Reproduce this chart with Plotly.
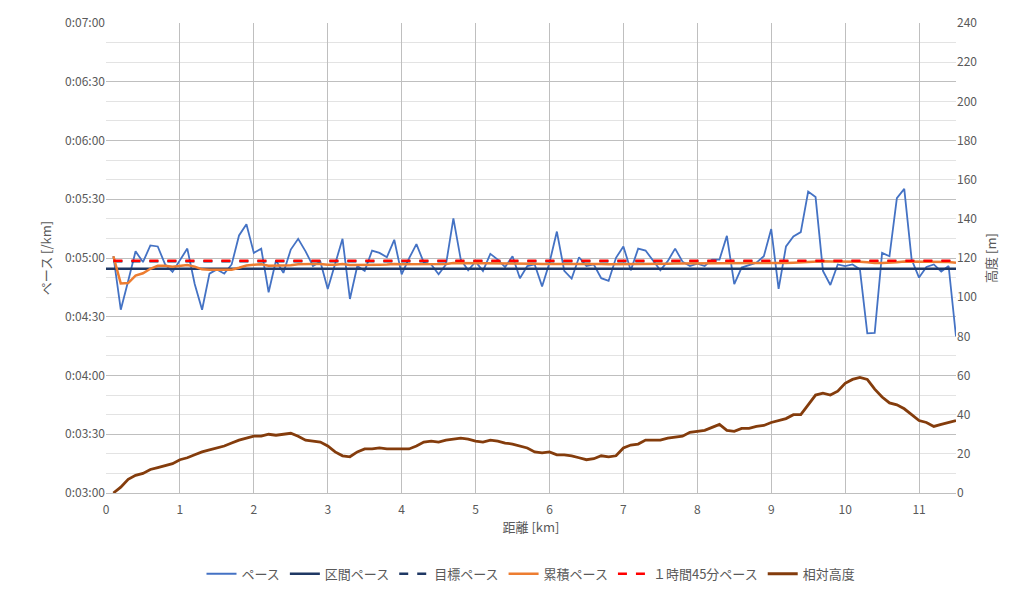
import plotly.graph_objects as go

dist = [round(0.1 * i, 1) for i in range(1, 116)]

pace = [300.9, 273.6, 288.3, 303.4, 297.9, 306.4, 305.9, 296.7, 292.9, 299.2,
        304.8, 286.7, 273.6, 292.0, 294.2, 292.0, 296.7, 311.5, 317.2, 302.6,
        304.8, 282.5, 298.7, 292.4, 304.3, 309.8, 303.4, 295.9, 298.1, 284.2,
        296.7, 309.8, 279.1, 295.9, 293.4, 303.8, 302.6, 300.4, 309.3, 291.7,
        299.8, 307.1, 297.6, 296.7, 291.7, 296.7, 320.2, 299.2, 293.7, 298.1,
        293.4, 302.1, 299.2, 295.4, 300.9, 289.7, 295.9, 296.7, 285.5, 297.6,
        313.5, 293.4, 289.5, 300.4, 295.9, 296.7, 289.7, 288.3, 300.1, 305.9,
        293.7, 304.8, 303.8, 298.7, 293.7, 298.4, 304.8, 298.1, 295.9, 297.1,
        295.9, 299.2, 299.2, 311.3, 286.7, 295.1, 296.4, 297.6, 300.9, 314.8,
        284.2, 305.9, 311.0, 313.2, 333.9, 331.1, 293.4, 286.2, 296.7, 295.9,
        296.7, 294.2, 261.5, 261.8, 302.6, 300.9, 330.6, 335.3, 299.2, 290.0,
        295.4, 296.7, 293.1, 295.9, 259.9]

cum_pace = [300.9, 287.0, 287.2, 291.0, 292.2, 294.5, 296.0, 296.0, 295.6, 295.9,
            296.4, 295.6, 294.2, 294.0, 294.0, 293.8, 294.0, 295.0, 296.2, 296.5,
            296.8, 296.1, 296.2, 296.0, 296.3, 296.8, 297.0, 296.9, 296.9, 296.5,
            296.5, 296.9, 296.4, 296.4, 296.3, 296.5, 296.6, 296.7, 297.0, 296.8,
            296.8, 297.0, 297.0, 297.0, 296.9, 296.9, 297.4, 297.4, 297.3, 297.3,
            297.2, 297.3, 297.3, 297.3, 297.3, 297.1, 297.1, 297.1, 296.9, 296.9,
            297.2, 297.1, 297.0, 297.1, 297.0, 297.0, 296.9, 296.8, 296.8, 296.9,
            296.9, 297.0, 297.1, 297.1, 297.0, 297.1, 297.2, 297.2, 297.2, 297.2,
            297.2, 297.2, 297.2, 297.4, 297.3, 297.3, 297.3, 297.3, 297.3, 297.5,
            297.4, 297.5, 297.6, 297.8, 298.1, 298.4, 298.3, 298.2, 298.2, 298.2,
            298.2, 298.1, 297.8, 297.4, 297.5, 297.5, 297.8, 298.2, 298.2, 298.1,
            298.1, 298.1, 298.0, 298.0, 297.6]

elev = [0, 3, 7, 9, 10, 12, 13, 14, 15, 17,
        18, 19.5, 21, 22, 23, 24, 25.5, 27, 28, 29,
        29, 30, 29.5, 30, 30.5, 29, 27, 26.5, 26, 24,
        21, 19, 18.5, 21, 22.5, 22.5, 23, 22.5, 22.5, 22.5,
        22.5, 24, 26, 26.5, 26, 27, 27.5, 28, 27.5, 26.5,
        26, 27, 26.5, 25.5, 25, 24, 23, 21, 20.5, 21,
        19.5, 19.5, 19, 18, 17, 17.5, 19, 18.5, 19, 23,
        24.5, 25, 27, 27, 27, 28, 28.5, 29, 31, 31.5,
        32, 33.5, 35, 32, 31.5, 33, 33, 34, 34.5, 36,
        37, 38, 40, 40, 45, 50, 51, 50, 52, 56,
        58, 59, 58, 53, 49, 46, 45, 43, 40, 37,
        36, 34, 35, 36, 37]

interval_pace = 294.5
target_pace = 298.3
goal_pace = 298.6  # 1h45m half marathon

left_ticks = [180, 210, 240, 270, 300, 330, 360, 390, 420]
left_labels = ["0:03:00", "0:03:30", "0:04:00", "0:04:30", "0:05:00",
               "0:05:30", "0:06:00", "0:06:30", "0:07:00"]
x_ticks = list(range(0, 12))

font = "Noto Sans CJK JP"
fig = go.Figure()
fig.add_trace(go.Scatter(x=dist, y=pace, name="ペース", mode="lines",
                         line=dict(color="#4472C4", width=1.8)))
fig.add_trace(go.Scatter(x=[0, 11.5], y=[interval_pace] * 2, name="区間ペース", mode="lines",
                         line=dict(color="#1F3864", width=2.5)))
fig.add_trace(go.Scatter(x=[0.1, 11.5], y=[target_pace] * 2, name="目標ペース", mode="lines",
                         line=dict(color="#1F3864", width=2.5, dash="dash")))
fig.add_trace(go.Scatter(x=dist, y=cum_pace, name="累積ペース", mode="lines",
                         line=dict(color="#ED7D31", width=2.5)))
fig.add_trace(go.Scatter(x=[0.1, 11.5], y=[goal_pace] * 2, name="１時間45分ペース", mode="lines",
                         line=dict(color="#FF0000", width=2.5, dash="dash")))
fig.add_trace(go.Scatter(x=dist, y=elev, name="相対高度", mode="lines", yaxis="y2",
                         line=dict(color="#843C0C", width=2.8)))

fig.update_layout(
    width=1024, height=593, margin=dict(l=98, r=76, t=15, b=101),
    paper_bgcolor="white", plot_bgcolor="white",
    font=dict(family=font, size=12, color="#595959"),
    showlegend=True,
    legend=dict(orientation="h", x=0.5, xanchor="center", y=-0.14, yanchor="top",
                font=dict(size=13, color="#595959")),
    xaxis=dict(range=[0, 11.5], tickvals=x_ticks, showgrid=True, gridcolor="#BFBFBF",
               zeroline=False, showline=True, linecolor="#BFBFBF", automargin=False,
               ticks="outside", ticklen=6, tickcolor="rgba(0,0,0,0)",
               title=dict(text="距離 [km]", font=dict(size=13), standoff=6)),
    yaxis=dict(range=[180, 420], tickvals=left_ticks, ticktext=left_labels,
               showgrid=True, gridcolor="#BFBFBF", zeroline=False, automargin=False,
               minor=dict(dtick=10, tick0=180, showgrid=True, gridcolor="#E3E3E3"),
               title=dict(text="ペース [/km]", font=dict(size=13), standoff=10)),
    yaxis2=dict(range=[0, 240], dtick=20, overlaying="y", side="right", showgrid=False,
                zeroline=False, automargin=False,
                title=dict(text="高度 [m]", font=dict(size=13), standoff=10)),
)
fig.write_html("out.html")
